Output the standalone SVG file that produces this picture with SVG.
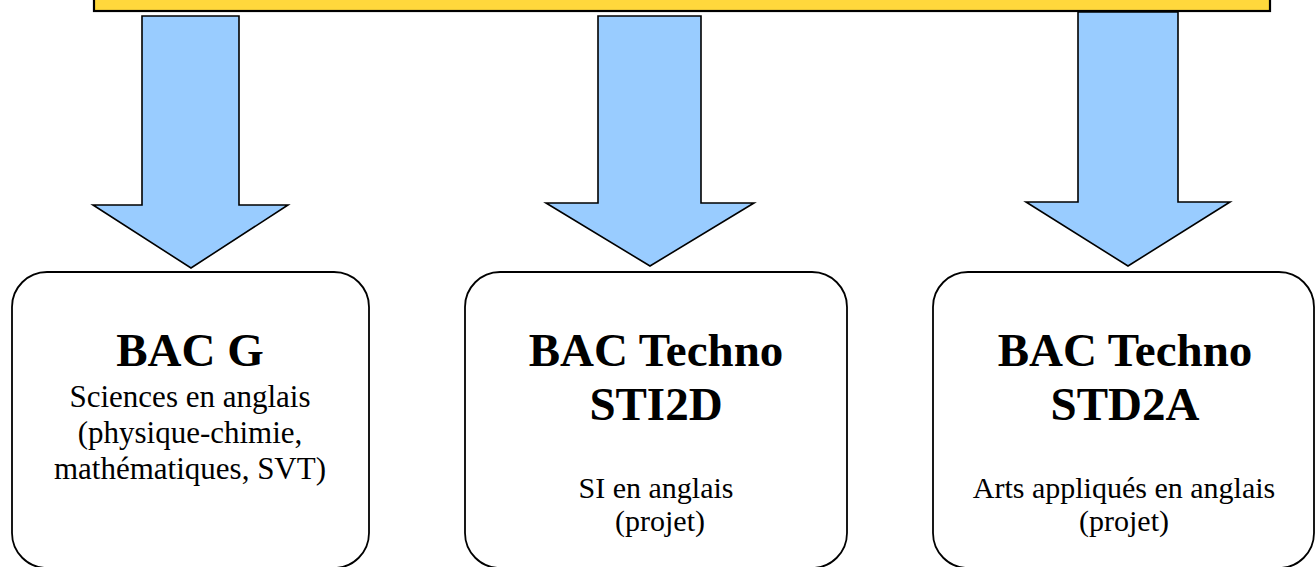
<svg xmlns="http://www.w3.org/2000/svg" width="1316" height="567" viewBox="0 0 1316 567">
<style>
.bar{fill:#FFD83C;stroke:#000;stroke-width:2.2}
.arrow{fill:#99CCFF;stroke:#000;stroke-width:1.6;stroke-linejoin:miter}
.box{fill:#fff;stroke:#000;stroke-width:1.8}
.title{font-family:"Liberation Serif","Times New Roman",serif;font-weight:bold;font-size:47px;fill:#000;text-anchor:middle}
.sub{font-family:"Liberation Serif","Times New Roman",serif;font-size:31px;fill:#000;text-anchor:middle}
.sub2{font-family:"Liberation Serif","Times New Roman",serif;font-size:30px;fill:#000;text-anchor:middle}
</style>
<rect width="1316" height="567" fill="#fff"/>
<g id="top-bar">
<rect class="bar" x="94" y="-10" width="1176" height="21"/>
</g>
<g id="connectors">
<path class="arrow" d="M142,16 H239 V205 H288 L191,268 L93,205 H142 Z"/>
<path class="arrow" d="M598,16 H701 V203 H754 L650,266 L546,203 H598 Z"/>
<path class="arrow" d="M1078,12 H1178 V202 H1230 L1128,266 L1026,202 H1078 Z"/>
</g>
<g id="node-bac-g">
<rect class="box" x="12" y="272" width="357" height="296" rx="35" ry="35"/>
<text class="title" x="190" y="366">BAC G</text>
<text class="sub" x="190" y="407">Sciences en anglais</text>
<text class="sub" x="190" y="443">(physique-chimie,</text>
<text class="sub" x="190" y="479">mathématiques, SVT)</text>
</g>
<g id="node-sti2d">
<rect class="box" x="465" y="272" width="382" height="296" rx="35" ry="35"/>
<text class="title" x="656" y="366">BAC Techno</text>
<text class="title" x="656" y="420">STI2D</text>
<text class="sub2" x="656" y="498">SI en anglais</text>
<text class="sub2" x="660" y="531">(projet)</text>
</g>
<g id="node-std2a">
<rect class="box" x="933" y="272" width="381" height="296" rx="35" ry="35"/>
<text class="title" x="1125" y="366">BAC Techno</text>
<text class="title" x="1125" y="420">STD2A</text>
<text class="sub2" x="1124" y="498">Arts appliqués en anglais</text>
<text class="sub2" x="1124" y="531">(projet)</text>
</g>
</svg>
